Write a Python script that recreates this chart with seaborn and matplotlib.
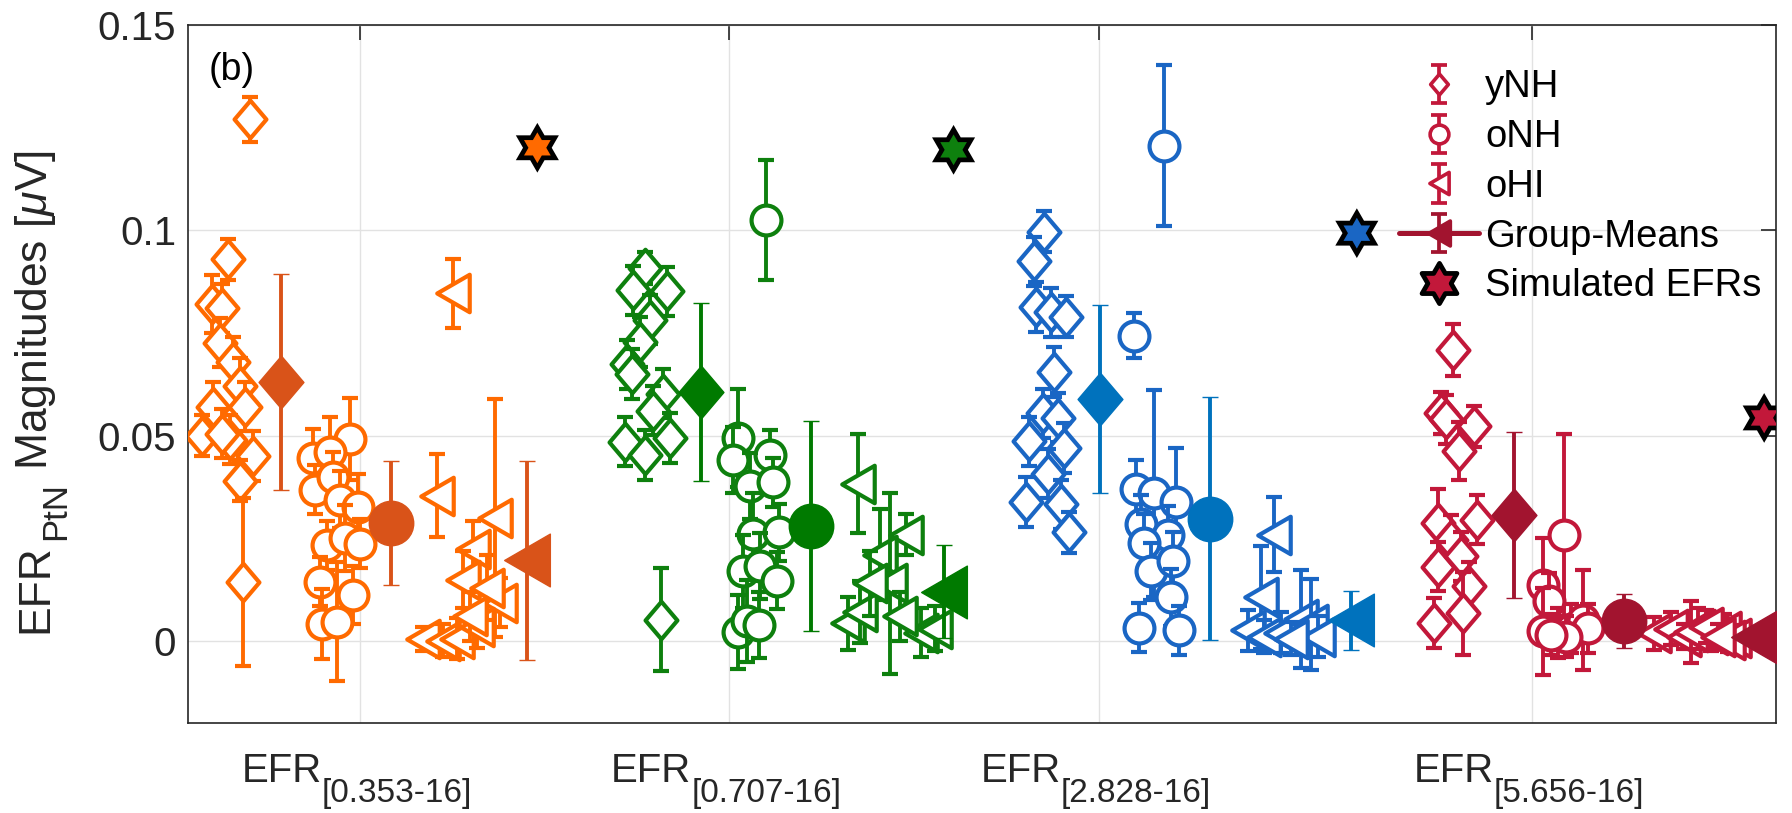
import numpy as np
import matplotlib
matplotlib.use("Agg")
import matplotlib.pyplot as plt
import seaborn as sns
import pandas as pd
from matplotlib.path import Path
from matplotlib.markers import MarkerStyle
from matplotlib.lines import Line2D
from matplotlib.collections import LineCollection
from matplotlib.container import ErrorbarContainer
from matplotlib.transforms import IdentityTransform

# ---------------------------------------------------------------- data
conditions = ["[0.353-16]", "[0.707-16]", "[2.828-16]", "[5.656-16]"]
xtick_pos = [1.0, 2.0, 3.0, 4.173]
ytick_vals = [0, 0.05, 0.1, 0.15]
ytick_text = ["0", "0.05", "0.1", "0.15"]
cohorts = ["yNH", "oNH", "oHI"]

# EFR[0.353-16]
ynh1_x = [0.702, 0.642, 0.599, 0.626, 0.621, 0.656, 0.675, 0.602, 0.688, 0.572, 0.648, 0.710, 0.675, 0.683, 0.626]
ynh1_y = [0.127, 0.093, 0.082, 0.081, 0.0726, 0.068, 0.062, 0.057, 0.057, 0.050, 0.049, 0.045, 0.039, 0.0144, 0.0505]
ynh1_e = [0.0055, 0.005, 0.007, 0.006, 0.006, 0.006, 0.007, 0.006, 0.006, 0.005, 0.006, 0.006, 0.005, 0.0205, 0.006]
onh1_x = [0.973, 0.873, 0.919, 0.878, 0.927, 0.946, 0.995, 0.911, 0.959, 1.000, 0.892, 0.981, 0.897, 0.938]
onh1_y = [0.0492, 0.0445, 0.046, 0.0368, 0.040, 0.0344, 0.0326, 0.0233, 0.0251, 0.0237, 0.0144, 0.0112, 0.0042, 0.0047]
onh1_e = [0.010, 0.007, 0.0085, 0.006, 0.006, 0.007, 0.008, 0.006, 0.008, 0.006, 0.006, 0.007, 0.0085, 0.0145]
ohi1_x = [1.252, 1.209, 1.366, 1.306, 1.279, 1.379, 1.171, 1.225, 1.263, 1.317, 1.344, 1.298]
ohi1_y = [0.0847, 0.0354, 0.0300, 0.0223, 0.0149, 0.0093, 0.0005, 0.0000, 0.0005, 0.0033, 0.0130, 0.0060]
ohi1_e = [0.0084, 0.0101, 0.0290, 0.007, 0.007, 0.006, 0.003, 0.004, 0.005, 0.005, 0.008, 0.006]

# EFR[0.707-16]
ynh2_x = [1.772, 1.832, 1.740, 1.786, 1.759, 1.724, 1.821, 1.794, 1.718, 1.840, 1.772, 1.816, 1.737]
ynh2_y = [0.0908, 0.0851, 0.0854, 0.0782, 0.0728, 0.0674, 0.0602, 0.0561, 0.0485, 0.0494, 0.0453, 0.0052, 0.065]
ynh2_e = [0.004, 0.006, 0.006, 0.006, 0.006, 0.006, 0.006, 0.006, 0.006, 0.006, 0.006, 0.0126, 0.006]
onh2_x = [2.098, 2.022, 2.011, 2.111, 2.057, 2.117, 2.065, 2.133, 2.038, 2.084, 2.130, 2.022, 2.049, 2.079]
onh2_y = [0.1025, 0.0494, 0.044, 0.0453, 0.0377, 0.0386, 0.026, 0.0264, 0.0169, 0.0183, 0.0147, 0.0021, 0.0048, 0.0039]
onh2_e = [0.0147, 0.012, 0.008, 0.006, 0.008, 0.006, 0.010, 0.007, 0.009, 0.008, 0.007, 0.009, 0.010, 0.008]
ohi2_x = [2.347, 2.477, 2.409, 2.436, 2.320, 2.355, 2.518, 2.463, 2.382, 2.558]
ohi2_y = [0.0383, 0.0259, 0.021, 0.014, 0.0043, 0.007, 0.002, 0.006, 0.014, 0.003]
ohi2_e = [0.012, 0.005, 0.011, 0.022, 0.0065, 0.0075, 0.006, 0.006, 0.008, 0.0055]

# EFR[2.828-16]
ynh3_x = [2.851, 2.824, 2.829, 2.870, 2.911, 2.878, 2.848, 2.889, 2.810, 2.905, 2.862, 2.802, 2.897, 2.919]
ynh3_y = [0.0996, 0.0924, 0.0813, 0.080, 0.079, 0.0655, 0.0554, 0.0544, 0.0486, 0.047, 0.0407, 0.0338, 0.0333, 0.0264]
ynh3_e = [0.005, 0.006, 0.006, 0.006, 0.005, 0.006, 0.006, 0.006, 0.006, 0.006, 0.006, 0.006, 0.006, 0.005]
onh3_x = [3.176, 3.095, 3.100, 3.149, 3.209, 3.114, 3.187, 3.122, 3.141, 3.201, 3.195, 3.108, 3.217]
onh3_y = [0.1206, 0.0743, 0.037, 0.0359, 0.0338, 0.0285, 0.0259, 0.0238, 0.0169, 0.0195, 0.0106, 0.0032, 0.0026]
onh3_e = [0.0196, 0.0055, 0.007, 0.0253, 0.0132, 0.007, 0.007, 0.007, 0.007, 0.007, 0.007, 0.006, 0.006]
ohi3_x = [3.474, 3.439, 3.404, 3.447, 3.493, 3.547, 3.575, 3.593, 3.520]
ohi3_y = [0.0259, 0.0106, 0.0026, 0.001, 0.002, 0.0053, 0.004, 0.001, 0.0005]
ohi3_e = [0.0092, 0.0126, 0.005, 0.004, 0.005, 0.012, 0.011, 0.005, 0.004]

# EFR[5.656-16]
ynh4_x = [3.959, 3.927, 3.940, 4.016, 3.976, 3.919, 4.024, 3.954, 3.919, 3.981, 4.003, 3.908, 3.986]
ynh4_y = [0.0708, 0.0555, 0.054, 0.0523, 0.0462, 0.0287, 0.0295, 0.0246, 0.0181, 0.0206, 0.0133, 0.0043, 0.0067]
ynh4_e = [0.0063, 0.005, 0.006, 0.005, 0.007, 0.0083, 0.006, 0.006, 0.006, 0.006, 0.006, 0.0061, 0.0101]
onh4_x = [4.260, 4.203, 4.220, 4.203, 4.244, 4.279, 4.312, 4.325, 4.266, 4.225]
onh4_y = [0.0259, 0.0137, 0.0096, 0.0023, 0.0019, 0.003, 0.0051, 0.0031, 0.001, 0.0015]
onh4_e = [0.0245, 0.0113, 0.007, 0.0106, 0.006, 0.006, 0.0122, 0.006, 0.005, 0.005]
ohi4_x = [4.504, 4.550, 4.585, 4.623, 4.659, 4.694, 4.721, 4.705, 4.604, 4.645, 4.678]
ohi4_y = [0.0018, 0.003, 0.001, 0.003, 0.0015, 0.0025, 0.0008, 0.0002, 0.0021, 0.0035, 0.001]
ohi4_e = [0.004, 0.004, 0.003, 0.005, 0.004, 0.004, 0.003, 0.003, 0.0075, 0.004, 0.003]

# group means (one per condition)
mean_ynh_x = [0.786, 1.924, 3.003, 4.125]
mean_ynh_y = [0.0631, 0.0606, 0.0589, 0.0306]
mean_ynh_e = [0.0263, 0.0216, 0.0229, 0.0202]
mean_onh_x = [1.084, 2.222, 3.301, 4.423]
mean_onh_y = [0.0287, 0.0280, 0.0298, 0.0048]
mean_onh_e = [0.0152, 0.0255, 0.0295, 0.0066]
mean_ohi_x = [1.453, 2.580, 3.683, 4.775]
mean_ohi_y = [0.0196, 0.0120, 0.0050, 0.0009]
mean_ohi_e = [0.0243, 0.0113, 0.0071, 0.0020]

# simulated EFR magnitudes
sim_x = [1.480, 2.607, 3.699, 4.802]
sim_y = [0.1201, 0.1196, 0.0993, 0.0543]

# ---------------------------------------------------------------- style
subject_colors = ["#FF6A00", "#0E800E", "#1A66C4", "#C2183A"]
mean_colors = ["#D95319", "#007A00", "#0072BD", "#A2142F"]

sns.set_theme(style="white")
plt.rcParams.update({
    "font.family": ["Liberation Sans", "DejaVu Sans"],
    "mathtext.fontset": "custom",
    "mathtext.rm": "Liberation Sans",
    "mathtext.it": "Liberation Sans:italic",
    "mathtext.bf": "Liberation Sans:bold",
    "mathtext.sf": "Liberation Sans",
    "axes.edgecolor": "#262626",
    "text.color": "#262626",
    "xtick.color": "#262626",
    "ytick.color": "#262626",
})

DIAMOND = MarkerStyle(Path([(0, 1), (0.85, 0), (0, -1), (-0.85, 0), (0, 1)], closed=True),
                      joinstyle="miter")
LEFT_TRI = MarkerStyle(Path([(-0.866, 0), (0.866, 1), (0.866, -1), (-0.866, 0)], closed=True),
                       joinstyle="miter")
CIRCLE = "o"
ang = np.deg2rad(90 + 30 * np.arange(12))
rad = np.where(np.arange(12) % 2 == 0, 1.0, 1 / np.sqrt(3))
hex_verts = np.column_stack([rad * np.cos(ang), rad * np.sin(ang)])
HEXAGRAM = MarkerStyle(Path(np.vstack([hex_verts, hex_verts[:1]]), closed=True),
                       joinstyle="miter")

cohort_markers = [DIAMOND, CIRCLE, LEFT_TRI]
subject_ms = [27, 21.5, 27]
mean_ms = [38, 32, 38]
EDGE_W = 3.0
BAR_W = 2.8

data = [
    [(ynh1_x, ynh1_y, ynh1_e), (onh1_x, onh1_y, onh1_e), (ohi1_x, ohi1_y, ohi1_e)],
    [(ynh2_x, ynh2_y, ynh2_e), (onh2_x, onh2_y, onh2_e), (ohi2_x, ohi2_y, ohi2_e)],
    [(ynh3_x, ynh3_y, ynh3_e), (onh3_x, onh3_y, onh3_e), (ohi3_x, ohi3_y, ohi3_e)],
    [(ynh4_x, ynh4_y, ynh4_e), (onh4_x, onh4_y, onh4_e), (ohi4_x, ohi4_y, ohi4_e)],
]
means = [(mean_ynh_x, mean_ynh_y, mean_ynh_e),
         (mean_onh_x, mean_onh_y, mean_onh_e),
         (mean_ohi_x, mean_ohi_y, mean_ohi_e)]

fig = plt.figure(figsize=(17.92, 8.13), dpi=100)
ax = fig.add_axes([0.10491, 0.1107, 0.88616, 0.85855])

# each subject is drawn in turn so later bars/markers sit on top of earlier ones
z = 2.0
for g in range(4):
    col = subject_colors[g]
    for c in range(3):
        xs, ys, es = data[g][c]
        for xv, yv, ev in zip(xs, ys, es):
            ax.errorbar([xv], [yv], yerr=[ev], marker=cohort_markers[c], ms=subject_ms[c],
                        mfc="white", mec=col, mew=EDGE_W, color=col, ecolor=col,
                        elinewidth=BAR_W, capsize=6, capthick=BAR_W, linestyle="none", zorder=z)
            z += 0.25
    mcol = mean_colors[g]
    for c in range(3):
        mx, my, me = means[c]
        ax.errorbar([mx[g]], [my[g]], yerr=[me[g]], marker=cohort_markers[c], ms=mean_ms[c],
                    mfc=mcol, mec=mcol, mew=1.0, color=mcol, ecolor=mcol,
                    elinewidth=BAR_W, capsize=6, capthick=BAR_W, linestyle="none", zorder=z)
        z += 0.25

# simulated magnitudes drawn as hexagrams
sim_df = pd.DataFrame({"x": sim_x, "y": sim_y, "cond": conditions})
sns.scatterplot(data=sim_df, x="x", y="y", hue="cond", palette=subject_colors,
                marker=HEXAGRAM, s=29 ** 2, edgecolor="black", linewidth=3.4,
                legend=False, ax=ax, zorder=z + 1)
ax.collections[-1].set_joinstyle("miter")

# ---------------------------------------------------------------- axes
ax.set_xlim(0.534, 4.834)
ax.set_ylim(-0.02, 0.15)
ax.set_xticks(xtick_pos)
ax.set_yticks(ytick_vals, labels=ytick_text)
ax.tick_params(axis="both", which="major", direction="in", length=11, width=1.2,
               top=True, right=True, labelsize=29)
ax.tick_params(axis="x", labelbottom=False)
ax.tick_params(axis="y", pad=8.5)
ax.grid(True, color="#e2e2e2", linewidth=1.0)
ax.set_axisbelow(True)
for sp in ax.spines.values():
    sp.set_linewidth(1.2)
    sp.set_color("#262626")
ax.set_xlabel("")
ax.set_ylabel("")

# category labels: "EFR" with a lowered subscript naming the band
xtrans = ax.get_xaxis_transform()
for xt, cond in zip(xtick_pos, conditions):
    ax.annotate("EFR", xy=(xt, 0), xycoords=xtrans, xytext=(-27.4, -42.5),
                textcoords="offset points", ha="right", va="baseline",
                fontsize=29, color="#262626", annotation_clip=False)
    ax.annotate(cond, xy=(xt, 0), xycoords=xtrans, xytext=(-27.4, -56.9),
                textcoords="offset points", ha="left", va="baseline",
                fontsize=24, color="#262626", annotation_clip=False)

ax.text(0.0132, 0.9355, "(b)", transform=ax.transAxes, fontsize=27,
        va="center", ha="left", color="black")

# ---------------------------------------------------------------- legend
leg_col = subject_colors[3]
leg_mean = mean_colors[3]


def errorbar_handle(marker, ms, face, color, ls="none"):
    line = Line2D([], [], marker=marker, ms=ms, mfc=face, mec=color, mew=2.6,
                  color=color, ls=ls, lw=3.6)
    cap = Line2D([], [], marker="_", ms=12, mew=2.7, color=color, ls="none")
    bars = LineCollection([], colors=[color], linewidths=2.7)
    return ErrorbarContainer((line, (cap, cap), (bars,)), has_xerr=False, has_yerr=True)


handles = [
    errorbar_handle(DIAMOND, 15, "white", leg_col),
    errorbar_handle(CIRCLE, 13.5, "white", leg_col),
    errorbar_handle(LEFT_TRI, 16, "white", leg_col),
    errorbar_handle(LEFT_TRI, 18, leg_mean, leg_mean, ls="-"),
    Line2D([], [], marker=HEXAGRAM, ms=29, mfc=leg_col, mec="black", mew=3.4, ls="none"),
]
labels = cohorts + ["Group-Means", "Simulated EFRs"]
leg = ax.legend(handles, labels, loc="upper left", bbox_to_anchor=(0.7626, 0.9365),
                frameon=False, fontsize=27.5, handlelength=2.1, handletextpad=0.16,
                labelspacing=0.36, borderpad=0, borderaxespad=0)
for t in leg.get_texts():
    t.set_color("black")

# y-axis title, built from its parts so the subscript sits low;
# each part starts where the previous one ends (positions in pixels)
ylab_kw = dict(transform=IdentityTransform(), rotation=90, rotation_mode="anchor",
               ha="left", va="baseline", color="#262626", clip_on=False)
H = fig.bbox.height
base_x = 47.0
t_efr = ax.text(base_x, H - 633.0, "EFR", fontsize=32, **ylab_kw)
fig.canvas.draw()
renderer = fig.canvas.get_renderer()
bb = t_efr.get_window_extent(renderer)
t_sub = ax.text(base_x + 18.0, bb.y1 + 4.0, "PtN", fontsize=25, **ylab_kw)
bb2 = t_sub.get_window_extent(renderer)
ax.text(base_x, bb2.y1 + 12.0, r"Magnitudes [$\mu$V]", fontsize=32, **ylab_kw)

fig.savefig("out.png", dpi=100)
